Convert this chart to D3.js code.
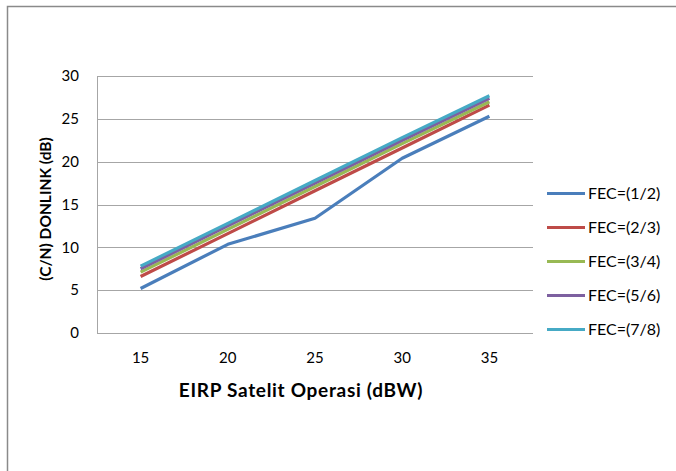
<!DOCTYPE html>
<html><head><meta charset="utf-8">
<script src="https://cdn.jsdelivr.net/npm/d3@7/dist/d3.min.js"></script>
<style>body{margin:0;background:#fff}svg{display:block}text{font-family:Lato,"Open Sans",sans-serif;fill:#000}</style>
</head><body><svg id="c" width="676" height="471"></svg>
<script>
const categories = [15, 20, 25, 30, 35];
const seriesNames = ["FEC=(1/2)", "FEC=(2/3)", "FEC=(3/4)", "FEC=(5/6)", "FEC=(7/8)"];
const fec12 = [5.2, 10.35, 13.4, 20.4, 25.3];
const fec23 = [6.6, 11.6, 16.6, 21.6, 26.6];
const fec34 = [7.1, 12.1, 17.1, 22.1, 27.0];
const fec56 = [7.5, 12.5, 17.5, 22.5, 27.4];
const fec78 = [7.8, 12.8, 17.8, 22.8, 27.7];
const yTicks = [0, 5, 10, 15, 20, 25, 30];
const colors = ["#4A7EBB", "#BE4B48", "#98B954", "#7D60A0", "#46AAC5"];
const allSeries = [fec12, fec23, fec34, fec56, fec78];

const svg = d3.select("#c");
svg.append("rect").attr("x", 7.5).attr("y", 6.5).attr("width", 700).attr("height", 500)
  .attr("fill", "none").attr("stroke", "#8a8a8a").attr("stroke-width", 1.5);

const L = 97, R = 533, T = 76, B = 333;
const x = d3.scaleBand().domain(categories).range([L, R]);
const y = d3.scaleLinear().domain([0, 30]).range([B, T]);

// gridlines
svg.append("g").selectAll("line").data(yTicks).join("line")
  .attr("x1", L).attr("x2", R).attr("y1", d => Math.round(y(d)) + 0.5).attr("y2", d => Math.round(y(d)) + 0.5)
  .attr("stroke", "#a6a6a6").attr("stroke-width", 1);
svg.append("line").attr("x1", L + 0.5).attr("x2", L + 0.5).attr("y1", T).attr("y2", B + 1)
  .attr("stroke", "#a6a6a6");

// y tick labels
const yAxis = d3.axisLeft(y).tickValues(yTicks).tickSize(0).tickPadding(18);
const gy = svg.append("g").attr("transform", `translate(${L},0)`).call(yAxis);
gy.select(".domain").remove();
gy.selectAll("text").style("font-size", "15px").style("font-family", "Lato, sans-serif").attr("fill", "#000");

// x tick labels
const xAxis = d3.axisBottom(x).tickSize(0).tickPadding(19);
const gx = svg.append("g").attr("transform", `translate(0,${B})`).call(xAxis);
gx.select(".domain").remove();
gx.selectAll("text").style("font-size", "15px").style("font-family", "Lato, sans-serif").attr("fill", "#000");

// lines
const line = d3.line().x((d, i) => x(categories[i]) + x.bandwidth() / 2).y(d => y(d));
allSeries.forEach((s, i) => {
  svg.append("path").datum(s).attr("d", line).attr("fill", "none")
    .attr("stroke", colors[i]).attr("stroke-width", 3.2).attr("stroke-linejoin", "round");
});

// axis titles
svg.append("text").attr("x", 301).attr("y", 397).attr("text-anchor", "middle")
  .style("font-size", "19px").style("font-weight", "bold").style("letter-spacing", "0.7px")
  .text("EIRP Satelit Operasi (dBW)");
svg.append("text").attr("transform", "translate(51,209) rotate(-90)").attr("text-anchor", "middle")
  .style("font-size", "15.5px").style("font-weight", "bold").text("(C/N) DONLINK (dB)");

// legend
const lg = svg.append("g");
seriesNames.forEach((n, i) => {
  const yy = 193.5 + i * 34;
  lg.append("line").attr("x1", 547).attr("x2", 585).attr("y1", yy).attr("y2", yy)
    .attr("stroke", colors[i]).attr("stroke-width", 3.2);
  lg.append("text").attr("x", 588).attr("y", yy + 5.5).style("font-size", "16px").text(n);
});
</script></body></html>
